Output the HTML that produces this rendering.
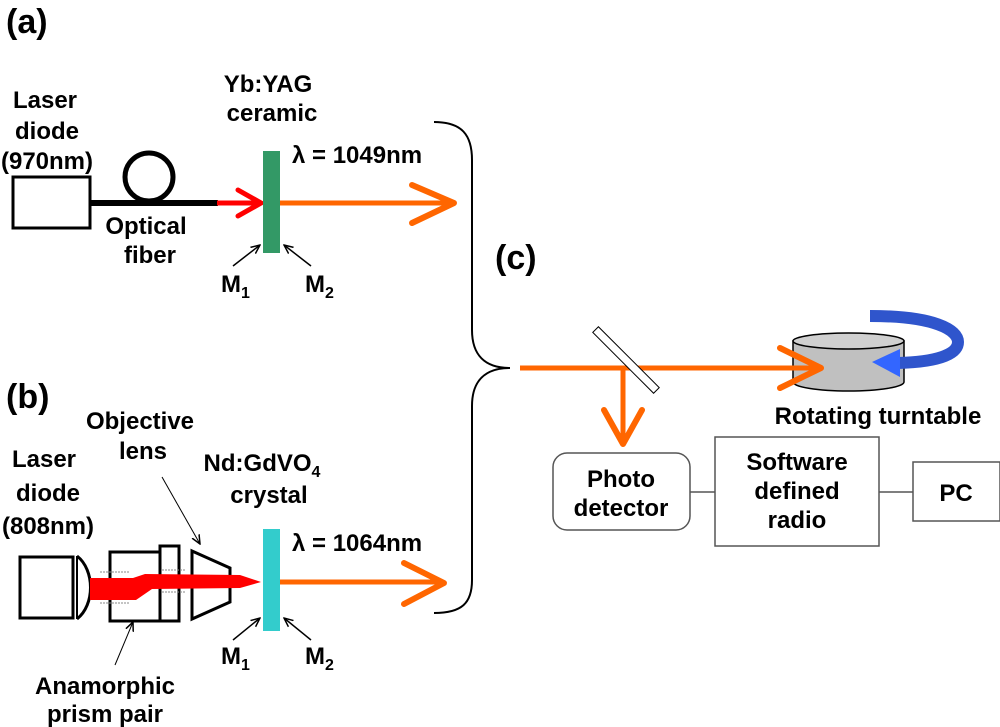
<!DOCTYPE html>
<html><head><style>body{margin:0;background:#fff}svg{display:block}text{font-family:"Liberation Sans",sans-serif;font-weight:bold;fill:#000}</style></head><body>
<svg width="1000" height="727" viewBox="0 0 1000 727" xmlns="http://www.w3.org/2000/svg">
<defs><marker id="ar" markerWidth="10" markerHeight="10" refX="9" refY="5" orient="auto" markerUnits="userSpaceOnUse"><path d="M0,1 L9,5 L0,9" fill="none" stroke="#000" stroke-width="1.5"/></marker></defs>
<g font-size="34"><text x="6" y="33">(a)</text><text x="6" y="408">(b)</text><text x="495" y="269">(c)</text></g>
<g font-size="24" text-anchor="middle">
<text x="45" y="108">Laser</text><text x="47" y="139">diode</text><text x="47" y="169">(970nm)</text>
<text x="268" y="92">Yb:YAG</text><text x="272" y="121">ceramic</text>
<text x="146" y="234">Optical</text><text x="150" y="263">fiber</text>
<text x="140" y="429">Objective</text><text x="143" y="459">lens</text>
<text x="44" y="467">Laser</text><text x="48" y="501">diode</text><text x="48" y="534">(808nm)</text>
<text x="262" y="471">Nd:GdVO<tspan font-size="16" dy="6">4</tspan></text><text x="269" y="503">crystal</text>
<text x="105" y="694">Anamorphic</text><text x="105" y="722">prism pair</text>
<text x="878" y="424">Rotating turntable</text>
<text x="621" y="487">Photo</text><text x="621" y="516">detector</text>
<text x="797" y="470">Software</text><text x="797" y="499">defined</text><text x="797" y="528">radio</text>
<text x="956" y="501">PC</text>
</g>
<g font-size="24"><text x="292" y="163">λ = 1049nm</text><text x="292" y="551">λ = 1064nm</text>
<text x="221" y="292">M<tspan font-size="16" dy="6">1</tspan></text><text x="305" y="292">M<tspan font-size="16" dy="6">2</tspan></text>
<text x="221" y="664">M<tspan font-size="16" dy="6">1</tspan></text><text x="305" y="664">M<tspan font-size="16" dy="6">2</tspan></text></g>
<!-- (a) -->
<rect x="13" y="177" width="77" height="51" fill="none" stroke="#000" stroke-width="3"/>
<line x1="90" y1="203" x2="218" y2="203" stroke="#000" stroke-width="6"/>
<circle cx="149" cy="177" r="24" fill="none" stroke="#000" stroke-width="5"/>
<line x1="217" y1="203" x2="260" y2="203" stroke="#f00" stroke-width="5"/>
<path d="M238,190 L261,203 L238,216" fill="none" stroke="#f00" stroke-width="5" stroke-linecap="round"/>
<rect x="263" y="151" width="17" height="102" fill="#339966"/>
<line x1="280" y1="203" x2="452" y2="203" stroke="#f60" stroke-width="5"/>
<path d="M412,185 L454,203 L412,223" fill="none" stroke="#f60" stroke-width="6" stroke-linecap="round" stroke-linejoin="round"/>
<line x1="233" y1="266" x2="260" y2="245" stroke="#000" stroke-width="1.5" marker-end="url(#ar)"/>
<line x1="311" y1="266" x2="284" y2="245" stroke="#000" stroke-width="1.5" marker-end="url(#ar)"/>
<!-- brace -->
<path d="M434,122 C462,122 472,135 472,160 L472,330 C472,355 485,368 510,368 C485,368 472,381 472,406 L472,580 C472,603 462,613 434,613" fill="none" stroke="#000" stroke-width="2"/>
<!-- (b) -->
<rect x="20" y="557" width="53" height="61" fill="none" stroke="#000" stroke-width="3"/>
<path d="M77,556 C95,570 95,605 77,619" fill="none" stroke="#000" stroke-width="3"/>
<line x1="77" y1="556" x2="77" y2="619" stroke="#000" stroke-width="2"/>
<rect x="110" y="552" width="50" height="69" fill="none" stroke="#000" stroke-width="3"/>
<rect x="160" y="546" width="19" height="75" fill="none" stroke="#000" stroke-width="3"/>
<path d="M192,551 L230,568 L230,602 L192,619 Z" fill="none" stroke="#000" stroke-width="3"/>
<path d="M90,578 L133,578 L145,574 L240,575 L261,582 L240,588 L152,589 L136,600 L90,600 Z" fill="#f00"/>
<g stroke="#888" stroke-width="1" stroke-dasharray="2,1"><line x1="100" y1="572" x2="130" y2="572"/><line x1="100" y1="603" x2="130" y2="603"/><line x1="162" y1="570" x2="185" y2="570"/><line x1="162" y1="592" x2="185" y2="592"/></g>
<rect x="263" y="529" width="17" height="102" fill="#33cccc"/>
<line x1="280" y1="582" x2="442" y2="582" stroke="#f60" stroke-width="5"/>
<path d="M404,563 L444,583 L404,604" fill="none" stroke="#f60" stroke-width="6" stroke-linecap="round" stroke-linejoin="round"/>
<line x1="162" y1="477" x2="200" y2="544" stroke="#000" stroke-width="1" marker-end="url(#ar)"/>
<line x1="115" y1="665" x2="133" y2="622" stroke="#000" stroke-width="1" marker-end="url(#ar)"/>
<line x1="233" y1="640" x2="260" y2="618" stroke="#000" stroke-width="1.5" marker-end="url(#ar)"/>
<line x1="311" y1="640" x2="284" y2="618" stroke="#000" stroke-width="1.5" marker-end="url(#ar)"/>
<!-- (c) -->
<path d="M793,341 L793,382 A55.5,9 0 0 0 904,382 L904,341 Z" fill="#c0c0c0" stroke="#000" stroke-width="1.5"/>
<ellipse cx="848.5" cy="341" rx="55.5" ry="8" fill="#d0d0d0" stroke="#000" stroke-width="1.5"/>
<line x1="520" y1="368" x2="818" y2="368" stroke="#f60" stroke-width="5"/>
<path d="M780,348 L821,368 L780,388" fill="none" stroke="#f60" stroke-width="6" stroke-linecap="round" stroke-linejoin="round"/>
<rect x="583" y="356" width="86" height="8" fill="#fff" stroke="#000" stroke-width="1" transform="rotate(45 626 360)"/>
<line x1="623" y1="368" x2="623" y2="442" stroke="#f60" stroke-width="5"/>
<path d="M604,410 L623,444 L642,410" fill="none" stroke="#f60" stroke-width="6" stroke-linecap="round" stroke-linejoin="round"/>
<path d="M870,316 C935,316 958,330 958,342 C958,355 935,362 898,363" fill="none" stroke="#2f55cc" stroke-width="12"/>
<path d="M872,362 L900,349 L900,377 Z" fill="#3366ff"/>
<rect x="553" y="453" width="137" height="77" rx="14" fill="none" stroke="#555" stroke-width="1.5"/>
<rect x="715" y="437" width="164" height="109" fill="none" stroke="#555" stroke-width="1.5"/>
<rect x="913" y="462" width="87" height="59" fill="none" stroke="#555" stroke-width="1.5"/>
<line x1="690" y1="492" x2="715" y2="492" stroke="#555" stroke-width="1.5"/>
<line x1="879" y1="492" x2="913" y2="492" stroke="#555" stroke-width="1.5"/>
</svg>
</body></html>
